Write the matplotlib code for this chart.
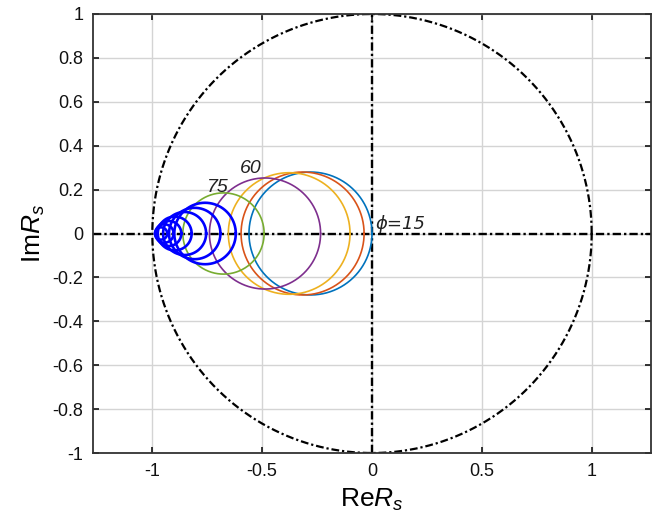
import numpy as np
import matplotlib
matplotlib.use("Agg")
import matplotlib.pyplot as plt

plt.rcParams['font.family'] = ['Liberation Sans', 'DejaVu Sans']
plt.rcParams['mathtext.fontset'] = 'custom'
plt.rcParams['mathtext.rm'] = 'Liberation Sans'
plt.rcParams['mathtext.it'] = 'Liberation Sans:italic'

# circles for phi = 15 ... 75 (center on real axis, radius)
centers = [-0.28, -0.316, -0.377, -0.487, -0.676]
radii = [0.28, 0.28, 0.277, 0.253, 0.185]
colors = ['#0072BD', '#D95319', '#EDB120', '#7E2F8E', '#77AC30']

# smaller circles for large phi (blue)
blue_centers = [-0.76, -0.807, -0.853, -0.898, -0.925, -0.945, -0.96]
blue_radii = [0.14, 0.117, 0.098, 0.077, 0.057, 0.042, 0.028]

labels = ['ϕ=15', '60', '75']
label_x = [0.015, -0.55, -0.70]
label_y = [0.045, 0.295, 0.21]

xticks = [-1, -0.5, 0, 0.5, 1]
xticklabels = ['-1', '-0.5', '0', '0.5', '1']
yticks = [-1, -0.8, -0.6, -0.4, -0.2, 0, 0.2, 0.4, 0.6, 0.8, 1]
yticklabels = ['-1', '-0.8', '-0.6', '-0.4', '-0.2', '0', '0.2', '0.4', '0.6', '0.8', '1']

t = np.linspace(0, 2*np.pi, 400)

fig = plt.figure(figsize=(6.56, 5.22), dpi=100)
ax = fig.add_axes([93/656, 1-453/522, 558/656, 439/522])

dd = (0, (3.5, 1.3, 1.0, 1.3))
ax.plot(np.cos(t), np.sin(t), color='k', lw=1.6, linestyle=dd)
ax.axhline(0, color='k', lw=1.7, linestyle=dd)
ax.axvline(0, color='k', lw=1.7, linestyle=dd)

for c, r, col in zip(centers, radii, colors):
    ax.plot(c + r*np.cos(t), r*np.sin(t), color=col, lw=1.2)
for c, r in zip(blue_centers, blue_radii):
    ax.plot(c + r*np.cos(t), r*np.sin(t), color='#0000FF', lw=1.9)

ax.text(label_x[0], label_y[0], labels[0], fontsize=13, style='italic',
        family=['DejaVu Sans'], ha='left', va='center', color='#222222')
for s, x, y in zip(labels[1:], label_x[1:], label_y[1:]):
    ax.text(x, y, s, fontsize=14, style='italic', ha='center', va='center',
            color='#222222')

ax.set_xlim(-1.27, 1.27)
ax.set_ylim(-1, 1)
ax.set_xticks(xticks)
ax.set_xticklabels(xticklabels)
ax.set_yticks(yticks)
ax.set_yticklabels(yticklabels)
ax.grid(True, color='#d4d4d4', lw=1)
ax.set_axisbelow(True)
ax.tick_params(direction='in', top=True, right=True, length=4, width=1.2,
               labelsize=13, pad=7, colors='#111111')
for sp in ax.spines.values():
    sp.set_linewidth(1.3)
    sp.set_color('#333333')

ax.set_xlabel('Re$R_s$', fontsize=19, labelpad=5)
ax.set_ylabel('Im$R_s$', fontsize=19, labelpad=4)

fig.savefig('out.png', dpi=100)
